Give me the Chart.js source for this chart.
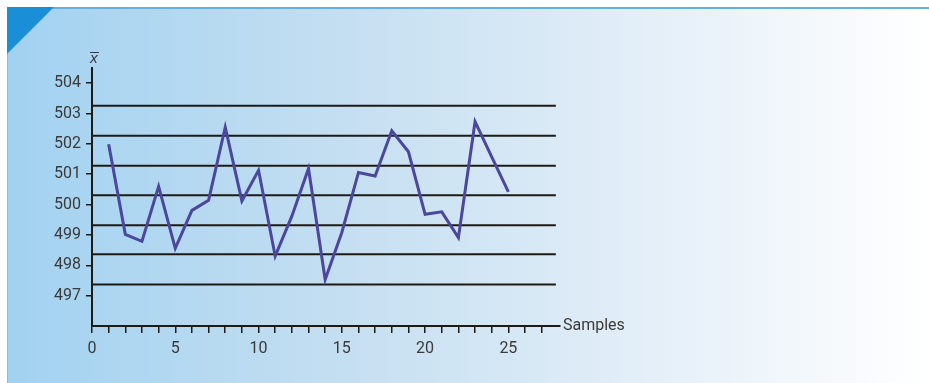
<!DOCTYPE html>
<html>
<head>
<meta charset="utf-8">
<script src="https://cdn.jsdelivr.net/npm/chart.js@4.4.0/dist/chart.umd.min.js"></script>
<style>
    html, body { margin: 0; padding: 0; background: #fff; }
    #wrap { position: relative; width: 929px; height: 383px; overflow: hidden; }
    #panel {
        position: absolute; left: 7px; top: 7px; right: 0; bottom: 0;
        background: linear-gradient(to right, #a2d2f1 0%, #c3def1 35%, #e4eff8 70%, #ffffff 100%);
        border-top: 2px solid #63b1e2;
        border-left: 1px solid #7cc0ea;
    }
    #corner {
        position: absolute; left: 7px; top: 7px; width: 0; height: 0;
        border-top: 47px solid #1a8fd8;
        border-right: 47px solid transparent;
    }
    #chart { position: absolute; left: 0; top: 0; }
</style>
</head>
<body>
<div id="wrap">
    <div id="panel"></div>
    <div id="corner"></div>
    <canvas id="chart" width="929" height="383"></canvas>
</div>
<script>
// Sample means (x-bar) per sample
const samples = [1, 2, 3, 4, 5, 6, 7, 8, 9, 10, 11, 12, 13, 14, 15, 16, 17, 18, 19, 20, 21, 22, 23, 24, 25];
const means = [501.99, 499.02, 498.79, 500.6, 498.56, 499.81, 500.14, 502.55, 500.12, 501.13,
               498.3, 499.62, 501.19, 497.53, 499.08, 501.06, 500.94, 502.43, 501.74, 499.68,
               499.76, 498.91, 502.73, 501.57, 500.42];

// Horizontal reference lines (control limits and zones)
const limitLines = [503.26, 502.27, 501.28, 500.31, 499.32, 498.36, 497.37];
const limitStart = 0;
const limitEnd = 27.85;

const yTicks = [497, 498, 499, 500, 501, 502, 503, 504];
const xTickStep = 1;
const xLabelEvery = 5;
const xMax = 28.1;

const lineColor = '#4a479d';
const textColor = '#3a3a3a';
const axisColor = '#1e1a14';

const datasets = limitLines.map(v => ({
    data: [{ x: limitStart, y: v }, { x: limitEnd, y: v }],
    borderColor: axisColor,
    borderWidth: 2,
    pointRadius: 0,
    order: 2
}));

datasets.push({
    data: samples.map((s, i) => ({ x: s, y: means[i] })),
    borderColor: lineColor,
    borderWidth: 3,
    pointRadius: 0,
    tension: 0,
    order: 1
});

const axisLabels = {
    id: 'axisLabels',
    afterDraw(chart) {
        const ctx = chart.ctx;
        const x = chart.scales.x;
        const y = chart.scales.y;
        ctx.save();
        ctx.fillStyle = textColor;
        ctx.font = '16px Roboto, "Liberation Sans", Arial, sans-serif';
        ctx.textAlign = 'left';
        ctx.textBaseline = 'middle';
        ctx.fillText('Samples', x.right + 3, x.top);

        // x-bar symbol above the y axis
        const cx = y.right + 2;
        ctx.font = 'italic 14px "DejaVu Sans", sans-serif';
        ctx.textAlign = 'center';
        ctx.textBaseline = 'alphabetic';
        ctx.fillText('x', cx, 63);
        ctx.strokeStyle = textColor;
        ctx.lineWidth = 1;
        ctx.beginPath();
        ctx.moveTo(cx - 4, 52.5);
        ctx.lineTo(cx + 5, 52.5);
        ctx.stroke();
        ctx.restore();
    }
};

new Chart(document.getElementById('chart'), {
    type: 'line',
    data: { datasets: datasets },
    options: {
        responsive: false,
        animation: false,
        layout: { padding: { left: 0, right: 929 - 560, top: 68, bottom: 0 } },
        plugins: { legend: { display: false }, tooltip: { enabled: false } },
        scales: {
            x: {
                type: 'linear',
                min: 0,
                max: xMax,
                afterFit(scale) { scale.height = 57; },
                afterBuildTicks(scale) {
                    const t = [];
                    for (let v = 0; v <= 27; v += xTickStep) t.push({ value: v });
                    scale.ticks = t;
                },
                border: { display: true, color: axisColor, width: 2 },
                grid: { drawOnChartArea: false, drawTicks: true, tickLength: 7, color: axisColor, lineWidth: 1.5 },
                ticks: {
                    color: textColor,
                    padding: 6,
                    maxRotation: 0,
                    autoSkip: false,
                    font: { size: 16, family: 'Roboto, "Liberation Sans", Arial, sans-serif' },
                    callback: v => (v % xLabelEvery === 0 ? String(v) : '')
                }
            },
            y: {
                min: 496,
                max: 504.5,
                afterFit(scale) { scale.width = 92; },
                afterBuildTicks(scale) { scale.ticks = yTicks.map(v => ({ value: v })); },
                border: { display: true, color: axisColor, width: 2 },
                grid: { drawOnChartArea: false, drawTicks: true, tickLength: 6, color: axisColor, lineWidth: 1.5 },
                ticks: {
                    color: textColor,
                    padding: 5,
                    font: { size: 16, family: 'Roboto, "Liberation Sans", Arial, sans-serif' }
                }
            }
        }
    },
    plugins: [axisLabels]
});
</script>
</body>
</html>
